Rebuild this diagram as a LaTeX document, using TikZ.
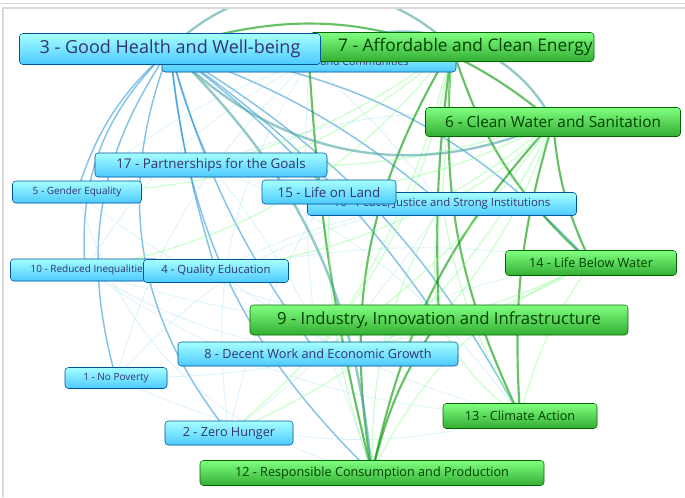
\documentclass[tikz,border=0pt]{standalone}
\usepackage{fontspec}
\setmainfont{Open Sans}
\begin{document}
\begin{tikzpicture}[x=0.75pt,y=-0.75pt,
 bl/.style={draw=blue!45!cyan!60!black,fill=cyan!55!blue!45!white,top color=cyan!35!white,bottom color=cyan!70!blue!70!white,rounded corners=2.5pt,text=blue!30!black!80,inner sep=0pt,minimum height=22*0.75pt},
 gr/.style={draw=green!40!black,top color=green!50!white,bottom color=green!60!black!80!white,rounded corners=2.5pt,text=green!25!black,inner sep=0pt,minimum height=27*0.75pt},
 eb/.style={draw=cyan!70!blue,opacity=0.5,line width=1.1pt},
 ebl/.style={draw=cyan!40,opacity=0.35,line width=0.6pt},
 eg/.style={draw=green!60!black,opacity=0.6,line width=1.6pt},
 egl/.style={draw=green!45,opacity=0.45,line width=0.9pt},
 et/.style={draw=teal!70,opacity=0.6,line width=1.8pt}]
\useasboundingbox (0,0) rectangle (685,497);
\fill[white] (0,0) rectangle (685,497);
\begin{scope}
\clip (4,9) rectangle (685,497);
\foreach \n/\x/\y in {c3/170/49,c7/452/47,c11/309/61,c6/553/122,c17/211/165,c5/77/192,c15/329/192,c16/442/204,c10/85/270,c4/216/271,c14/591/263,c9/439/320,c8/318/354,c1/116/378,c2/229/433,c13/520/416,c12/372/473}
 \coordinate (\n) at (\x,\y);
\foreach \a/\b/\bd in {c3/c2/30,c3/c1/25,c3/c8/10,c3/c4/5,c3/c5/15,c3/c10/25,c3/c17/5,c3/c15/-5,c3/c16/-10,c3/c9/-10,c3/c13/-15,c3/c14/-20,c3/c12/20}
 \draw[eb] (\a) to[bend right=\bd] (\b);
\foreach \a/\b/\bd in {c11/c2/20,c11/c8/5,c11/c1/15,c11/c5/10,c11/c16/-5,c11/c10/15,c17/c12/-10,c17/c13/-15,c5/c9/20,c5/c12/30,c10/c9/10,c10/c13/15,c4/c16/-10,c4/c14/-10,c1/c9/10,c1/c16/-20,c15/c2/10,c16/c2/-10,c8/c14/-10,c17/c6/-15,c5/c16/-15,c10/c8/10,c4/c13/10,c1/c13/20}
 \draw[ebl] (\a) to[bend right=\bd] (\b);
\foreach \a/\b/\bd in {c7/c12/-20,c6/c12/-15,c7/c13/-15,c6/c13/-10,c9/c12/-10,c7/c14/-15,c6/c14/-10,c7/c9/-5,c11/c12/-5,c3/c6/30}
 \draw[eg] (\a) to[bend left=\bd] (\b);
\foreach \a/\b/\bd in {c7/c2/20,c7/c8/10,c6/c8/10,c6/c4/15,c6/c16/10,c6/c15/10,c6/c2/20,c14/c12/-20,c14/c13/-10,c9/c13/-15,c6/c17/10,c7/c17/10,c7/c16/0,c14/c8/10,c14/c9/5,c13/c16/10,c12/c16/15,c12/c15/10,c9/c16/10,c6/c9/10,c7/c5/20,c7/c10/20}
 \draw[egl] (\a) to[bend left=\bd] (\b);
\draw[et] (c3) to[bend left=45] (c7);
\draw[et] (c11) to[bend left=50] (c6);
\draw[et] (c3) to[bend left=20] (c12);
\draw[et] (c3) to[bend right=35] (c6);
\end{scope}
\draw[gray!30,line width=1pt] (3,497) -- (3,8) -- (685,8);
\draw[gray!30] (0,3) -- (685,3);
\node[bl,minimum width=294*0.75pt,font=\fontsize{8}{9}\selectfont] (n11) at (309,61) {11 - Sustainable Cities and Communities};
\node[gr,minimum width=284*0.75pt,minimum height=29*0.75pt,font=\fontsize{13}{15}\selectfont] (n7) at (452,47) {\hspace{20pt}7 - Affordable and Clean Energy};
\node[bl,minimum width=301*0.75pt,minimum height=31*0.75pt,font=\fontsize{13.5}{15}\selectfont] (n3) at (170,49) {3 - Good Health and Well-being};
\node[gr,minimum width=255*0.75pt,minimum height=29*0.75pt,font=\fontsize{11.5}{14}\selectfont] (n6) at (553,122) {6 - Clean Water and Sanitation};
\node[bl,minimum width=232*0.75pt,minimum height=24*0.75pt,font=\fontsize{10}{12}\selectfont] (n17) at (211,165) {17 - Partnerships for the Goals};
\node[bl,minimum width=129*0.75pt,font=\fontsize{7.5}{9}\selectfont] (n5) at (77,192) {5 - Gender Equality};
\node[bl,minimum width=269*0.75pt,minimum height=23*0.75pt,font=\fontsize{8.5}{10}\selectfont] (n16) at (442,204) {16 - Peace, Justice and Strong Institutions};
\node[bl,minimum width=134*0.75pt,minimum height=24*0.75pt,font=\fontsize{10}{12}\selectfont] (n15) at (329,192) {15 - Life on Land};
\node[bl,minimum width=149*0.75pt,font=\fontsize{7.5}{9}\selectfont] (n10) at (85,270) {\hspace{6pt}10 - Reduced Inequalities};
\node[bl,minimum width=145*0.75pt,minimum height=23*0.75pt,font=\fontsize{8.5}{10}\selectfont] (n4) at (216,271) {4 - Quality Education};
\node[gr,minimum width=171*0.75pt,minimum height=25*0.75pt,font=\fontsize{9.5}{11}\selectfont] (n14) at (591,263) {14 - Life Below Water};
\node[gr,minimum width=378*0.75pt,minimum height=30*0.75pt,font=\fontsize{12.5}{15}\selectfont] (n9) at (439,320) {9 - Industry, Innovation and Infrastructure};
\node[bl,minimum width=280*0.75pt,minimum height=24*0.75pt,font=\fontsize{9.5}{11}\selectfont] (n8) at (318,354) {8 - Decent Work and Economic Growth};
\node[bl,minimum width=102*0.75pt,minimum height=21*0.75pt,font=\fontsize{7.5}{9}\selectfont] (n1) at (116,378) {1 - No Poverty};
\node[bl,minimum width=128*0.75pt,minimum height=24*0.75pt,font=\fontsize{9.5}{11}\selectfont] (n2) at (229,433) {2 - Zero Hunger};
\node[gr,minimum width=154*0.75pt,minimum height=25*0.75pt,font=\fontsize{9.5}{11}\selectfont] (n13) at (520,416) {13 - Climate Action};
\node[gr,minimum width=344*0.75pt,minimum height=25*0.75pt,font=\fontsize{9.5}{11}\selectfont] (n12) at (372,473) {12 - Responsible Consumption and Production};
\end{tikzpicture}
\end{document}
